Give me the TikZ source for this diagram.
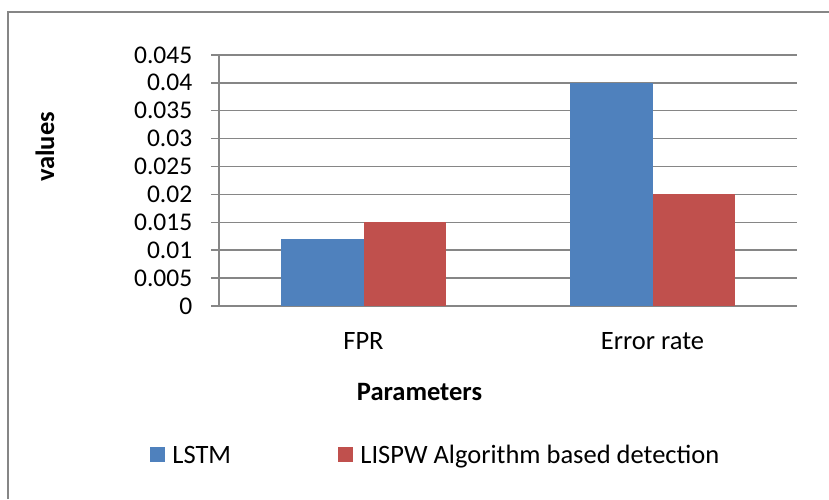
\documentclass[tikz,border=0pt]{standalone}
\usepackage{fontspec}
\setmainfont{Carlito}
\usetikzlibrary{positioning}

\definecolor{lstmblue}{HTML}{4F81BD}
\definecolor{lispwred}{HTML}{C0504D}
\definecolor{axisgray}{HTML}{868686}

\begin{document}
\begin{tikzpicture}[x=1pt, y=-1pt,
	gridline/.style={axisgray, line width=1.5pt},
	ticklabel/.style={text=black, anchor=east, inner sep=0pt, font=\fontsize{25.5}{30}\selectfont},
	legendkey/.style={inner sep=0pt, minimum size=15pt},
	legendtext/.style={inner sep=0pt, text depth=0pt}]

\def\ox{219}
\def\oy{306}
\def\pw{578}
\def\unit{27.9}
\def\bw{82.7}

\fontsize{26.5}{31}\selectfont
\path [use as bounding box] (0,0) rectangle (829,499);

% FRAME
\draw [gridline] (8,499) -- (8,12) -- (829,12);

% GRID AND TICKS
\foreach \i/\lab in {0/0,1/0.005,2/0.01,3/0.015,4/0.02,5/0.025,6/0.03,7/0.035,8/0.04,9/0.045}
	\draw [gridline] (\ox,\oy) ++(-8,-\i*\unit) node[ticklabel, xshift=-18pt] (tick\i) {\lab} -- +(8+\pw,0);
\draw [gridline] (\ox,\oy) -- +(0,-9*\unit);

% BARS
\fill [lstmblue] (\ox,\oy) ++(144.5-\bw,0) rectangle +(\bw,-0.012/0.005*\unit);
\fill [lispwred] (\ox,\oy) ++(144.5,0) rectangle +(\bw,-0.015/0.005*\unit);
\fill [lstmblue] (\ox,\oy) ++(433.5-\bw,0) rectangle +(\bw,-0.04/0.005*\unit);
\fill [lispwred] (\ox,\oy) ++(433.5,0) rectangle +(\bw,-0.02/0.005*\unit);

% LABELS
\node (fpr) at (363.5,341) {FPR};
\node (errrate) at (652.5,341) {Error rate};
\node [font=\bfseries] (params) at (419.5,392) {Parameters};
\node [font=\bfseries, rotate=90] (values) at (45,147) {values};

% LEGEND
\node [legendkey, fill=lstmblue] (lstmkey) at (157.5,454.5) {};
\node [legendtext, right=7pt of lstmkey] (lstmtext) {LSTM};
\node [legendkey, fill=lispwred] (lispwkey) at (345.5,454.5) {};
\node [legendtext, right=7pt of lispwkey] (lispwtext) {LISPW Algorithm based detection};

\end{tikzpicture}
\end{document}
